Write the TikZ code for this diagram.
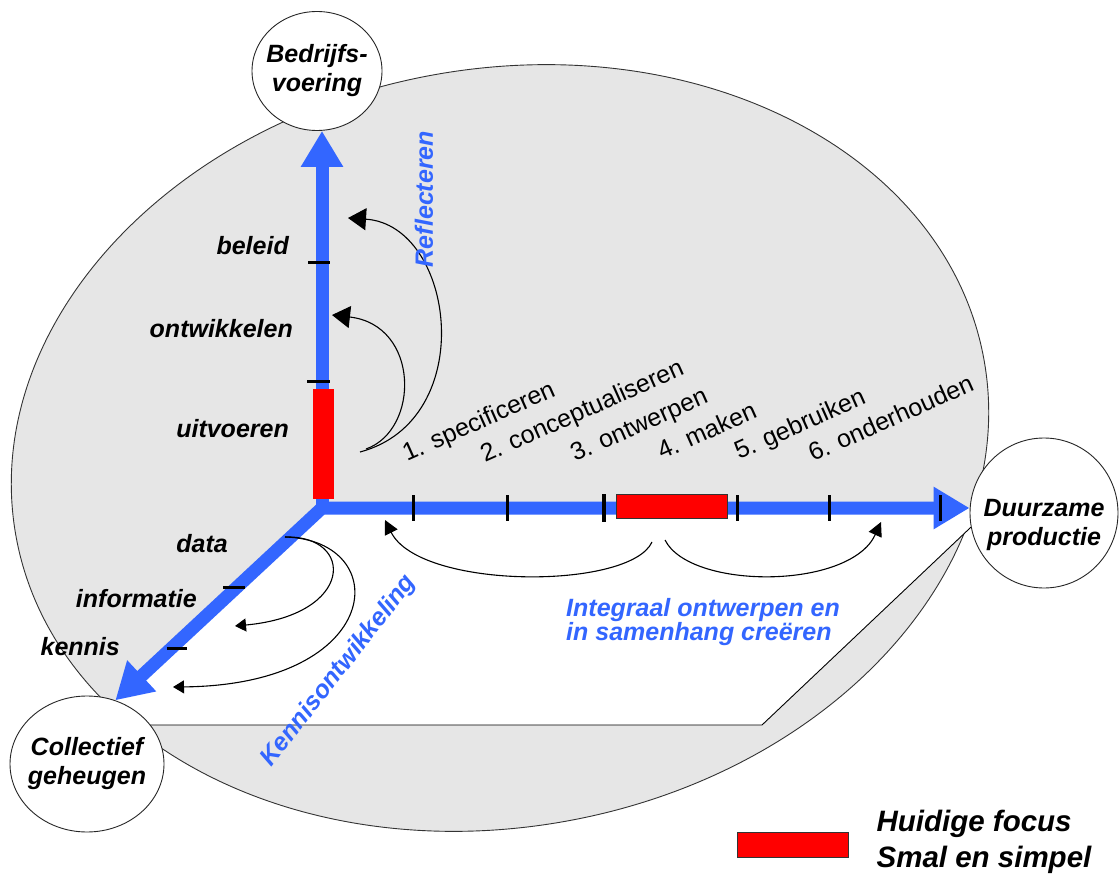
\documentclass[tikz,border=0pt]{standalone}
\usepackage{fontspec}
\setmainfont{Liberation Sans}
\usetikzlibrary{arrows.meta, shapes.geometric, positioning, calc, backgrounds}

\definecolor{axisblue}{RGB}{51,102,255}
\definecolor{fieldgray}{RGB}{230,230,230}

\begin{document}
\begin{tikzpicture}[x=1pt, y=-1pt,
    pole/.style={ellipse, draw=black!85, fill=white, line width=0.9pt, inner sep=0pt},
    poletext/.style={align=center, inner sep=0pt, font=\fontsize{25}{29}\selectfont\bfseries\itshape},
    lbl/.style={inner sep=0pt, font=\fontsize{25}{29}\selectfont\bfseries\itshape},
    phase/.style={inner sep=0pt, anchor=base west, rotate=24, font=\fontsize{25}{29}\selectfont},
    axisline/.style={axisblue, line width=13pt},
    bighead/.style={-{Triangle[length=36pt, width=40pt]}},
    notch/.style={line width=3pt},
    curl/.style={line width=1.1pt},
    focus/.style={fill=red, draw=black!80, line width=0.8pt}]

  \useasboundingbox (0,0) rectangle (1119,874);

  \node[pole, minimum width=130pt, minimum height=119pt] (bedr) at (317,71) {};
  \node[pole, minimum width=154pt, minimum height=136pt] (coll) at (87,764) {};
  \node[pole, minimum width=148pt, minimum height=150pt] (duur) at (1044,513) {};
  \node[poletext] (bedrtxt) at (bedr) {Bedrijfs-\\voering};
  \node[poletext] (colltxt) at (coll) {Collectief\\geheugen};
  \node[poletext] (duurtxt) at ($(duur)+(0,12)$) {Duurzame\\productie};

  \coordinate (o) at (322,508);
  \coordinate (bl) at (762,725);

  \begin{scope}[on background layer]
    \filldraw[fill=fieldgray, draw=black!80, line width=0.9pt, rotate around={10.5:(500,448)}] (500,448) ellipse [x radius=492, y radius=379];
    \fill[white] (o) -- (o -| duur.west) -- (duur.191) -- (bl) -- (bl -| coll.center) -- (coll.66) -- cycle;
    \draw[line width=0.9pt] (duur.191) -- (bl) -- (bl -| coll.center);
  \end{scope}

  % axes
  \draw[axisline, bighead] (o) -- (o |- bedr.south);
  \fill[red] (312.5,389) rectangle (333.5,499);
  \draw[axisline, {Triangle[length=36pt, width=40pt]}-{Triangle[length=36pt, width=40pt]}] (coll.66) -- (o) -- (o -| duur.west);
  \draw[focus] (616,494) rectangle (727,518);

  \foreach \tx in {413,507,737,829,940} \draw[notch] (\tx,495) -- (\tx,521);
  \draw[notch, line width=4.5pt] (604,494) -- (604,522);
  \draw[notch] (308,263) -- (330,263);
  \draw[notch] (307,382) -- (330,382);
  \draw[notch] (223,587) -- (245,587);
  \draw[notch] (167,648) -- (187,648);

  % curved arrows
  \coordinate (refla) at (360,452);
  \coordinate (reflb) at (366,449);
  \coordinate (beleidtip) at (348,218);
  \coordinate (ontwtip) at (332,315);
  \coordinate (kenna) at (285,537);
  \coordinate (infotip) at (235,626);
  \coordinate (kennistip) at (173,687);
  \coordinate (bracel) at (652,542);
  \coordinate (bracer) at (665,540);
  \coordinate (starttip) at (385,520);
  \coordinate (endtip) at (881,522);

  \draw[curl, -{Triangle[length=18pt, width=22pt]}] (refla) .. controls (480,420) and (455,225) .. (beleidtip);
  \draw[curl, -{Triangle[length=18pt, width=22pt]}] (reflb) .. controls (420,430) and (420,325) .. (ontwtip);
  \draw[curl, -{Triangle[length=11pt, width=13pt]}] (kenna) .. controls (355,535) and (355,615) .. (infotip);
  \draw[curl, -{Triangle[length=11pt, width=13pt]}] (kenna) .. controls (395,540) and (385,685) .. (kennistip);
  \draw[curl, -{Triangle[length=14pt, width=14pt]}] (bracel) .. controls (630,590) and (420,590) .. (starttip);
  \draw[curl, -{Triangle[length=14pt, width=14pt]}] (bracer) .. controls (690,590) and (850,590) .. (endtip);

  \node[lbl, anchor=base east] (beleid) at (289,255) {beleid};
  \node[lbl, anchor=base east] (ontw) at (293,338) {ontwikkelen};
  \node[lbl, anchor=base east] (uitv) at (289,437) {uitvoeren};
  \node[lbl, anchor=base east] (data) at (228,552) {data};
  \node[lbl, anchor=base east] (info) at (197,607) {informatie};
  \node[lbl, anchor=base east] (kennis) at (120,655) {kennis};

  \node[phase] (p1) at (407,462) {1. specificeren};
  \node[phase] (p2) at (485,463) {2. conceptualiseren};
  \node[phase] (p3) at (575,462) {3. ontwerpen};
  \node[phase] (p4) at (662,460) {4. maken};
  \node[phase] (p5) at (739,460) {5. gebruiken};
  \node[phase] (p6) at (813,462) {6. onderhouden};

  \node[lbl, axisblue, rotate=90] (refl) at (424,199) {Reflecteren};
  \node[lbl, axisblue, rotate=52] (kennisontw) at (339,671) {Kennisontwikkeling};
  \node[lbl, axisblue, anchor=west, align=left, font=\fontsize{25}{24}\selectfont\bfseries\itshape] (integraal) at (566,622) {Integraal ontwerpen en\\in samenhang creëren};

  \node[focus, minimum width=111pt, minimum height=25pt, inner sep=0pt] (legendbox) at (792.5,844.5) {};
  \node[lbl, right=28pt of legendbox, yshift=3pt, align=left, font=\fontsize{29.5}{36}\selectfont\bfseries\itshape] (legendtxt) {Huidige focus\\Smal en simpel};
\end{tikzpicture}
\end{document}
